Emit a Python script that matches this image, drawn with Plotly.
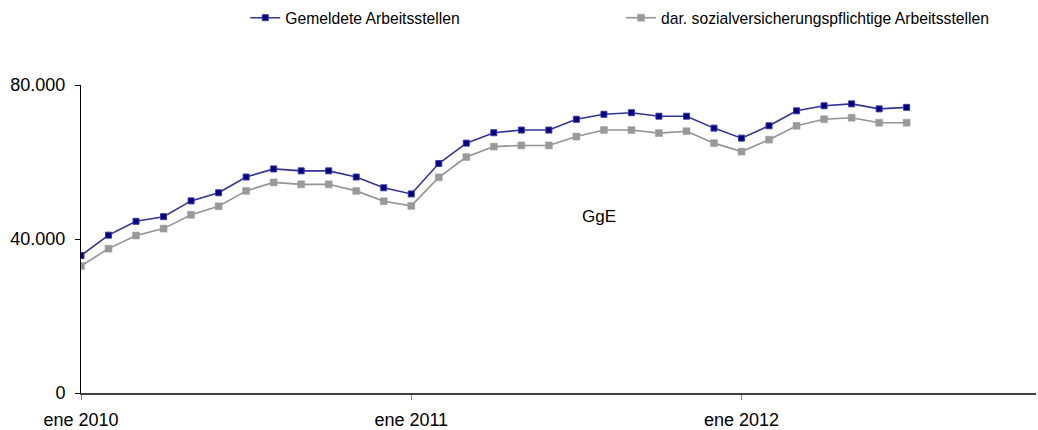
import plotly.graph_objects as go

months = ["ene 2010", "feb 2010", "mar 2010", "abr 2010", "may 2010", "jun 2010",
          "jul 2010", "ago 2010", "sep 2010", "oct 2010", "nov 2010", "dic 2010",
          "ene 2011", "feb 2011", "mar 2011", "abr 2011", "may 2011", "jun 2011",
          "jul 2011", "ago 2011", "sep 2011", "oct 2011", "nov 2011", "dic 2011",
          "ene 2012", "feb 2012", "mar 2012", "abr 2012", "may 2012", "jun 2012",
          "jul 2012"]

gemeldete = [35700, 41000, 44600, 45800, 49900, 52000, 56100, 58200, 57700, 57700,
             56100, 53300, 51700, 59600, 64900, 67600, 68300, 68300, 71100, 72400,
             72800, 71900, 71900, 68800, 66200, 69400, 73300, 74600, 75100, 73800,
             74200]

sozial = [33000, 37500, 40900, 42700, 46300, 48500, 52500, 54700, 54200, 54200,
          52500, 49800, 48600, 56000, 61300, 64000, 64300, 64300, 66600, 68300,
          68300, 67500, 68000, 64900, 62700, 65800, 69400, 71100, 71500, 70200,
          70200]

tick_labels = ["ene 2010", "ene 2011", "ene 2012"]
y_ticks = [0, 40000, 80000]
y_tick_text = ["0", "40.000", "80.000"]

x_idx = list(range(len(months)))
tick_pos = [months.index(t) for t in tick_labels]

FONT = "Liberation Sans, Arial, sans-serif"

fig = go.Figure()
fig.add_trace(go.Scatter(
    x=x_idx, y=gemeldete, name="Gemeldete Arbeitsstellen", mode="lines+markers",
    text=months,
    line=dict(color="#33339a", width=1.6),
    marker=dict(symbol="square", size=6, color="#000080",
                line=dict(color="#3a3aa0", width=1)),
    legend="legend",
))
fig.add_trace(go.Scatter(
    x=x_idx, y=sozial, name="dar. sozialversicherungspflichtige Arbeitsstellen",
    mode="lines+markers", text=months,
    line=dict(color="#939393", width=1.6),
    marker=dict(symbol="square", size=7, color="#999999",
                line=dict(color="#a0a0a0", width=0.5)),
    legend="legend2",
))

fig.add_annotation(
    x=0.542, y=(393 - 216) / 3.85 * 1000, xref="paper", yref="y", text="GgE",
    showarrow=False, font=dict(family=FONT, size=17, color="#000000"),
)

legend_common = dict(orientation="h", y=1.2175, yanchor="middle",
                     xanchor="left", bgcolor="rgba(0,0,0,0)", itemwidth=30,
                     font=dict(family=FONT, size=15.7, color="#000000"))

fig.update_layout(
    width=1038, height=430,
    margin=dict(l=81, r=2, t=85, b=37, autoexpand=False),
    paper_bgcolor="white", plot_bgcolor="white",
    showlegend=True,
    font=dict(family=FONT, size=18, color="#000000"),
    legend=dict(x=0.172, **legend_common),
    legend2=dict(x=0.5655, **legend_common),
)

fig.update_xaxes(
    range=[0, 34.7], tickvals=tick_pos, ticktext=tick_labels,
    showline=True, linecolor="#404040", linewidth=2,
    ticks="outside", ticklen=5, tickcolor="#808080", tickwidth=1,
    showgrid=False, zeroline=False, automargin=False, ticklabelstandoff=4,
    tickfont=dict(family=FONT, size=18, color="#000000"),
)
fig.update_yaxes(
    range=[0, 80000], tickvals=y_ticks, ticktext=y_tick_text,
    showline=True, linecolor="#000000", linewidth=1,
    ticks="outside", ticklen=5, tickcolor="#000000", tickwidth=1,
    showgrid=False, zeroline=False, ticklabelstandoff=6, automargin=False,
    tickfont=dict(family=FONT, size=18, color="#000000"),
)

fig.write_html(
    "out.html",
    config={"displayModeBar": False},
    post_script="document.body.style.margin='0px';document.body.style.overflow='hidden';",
)
